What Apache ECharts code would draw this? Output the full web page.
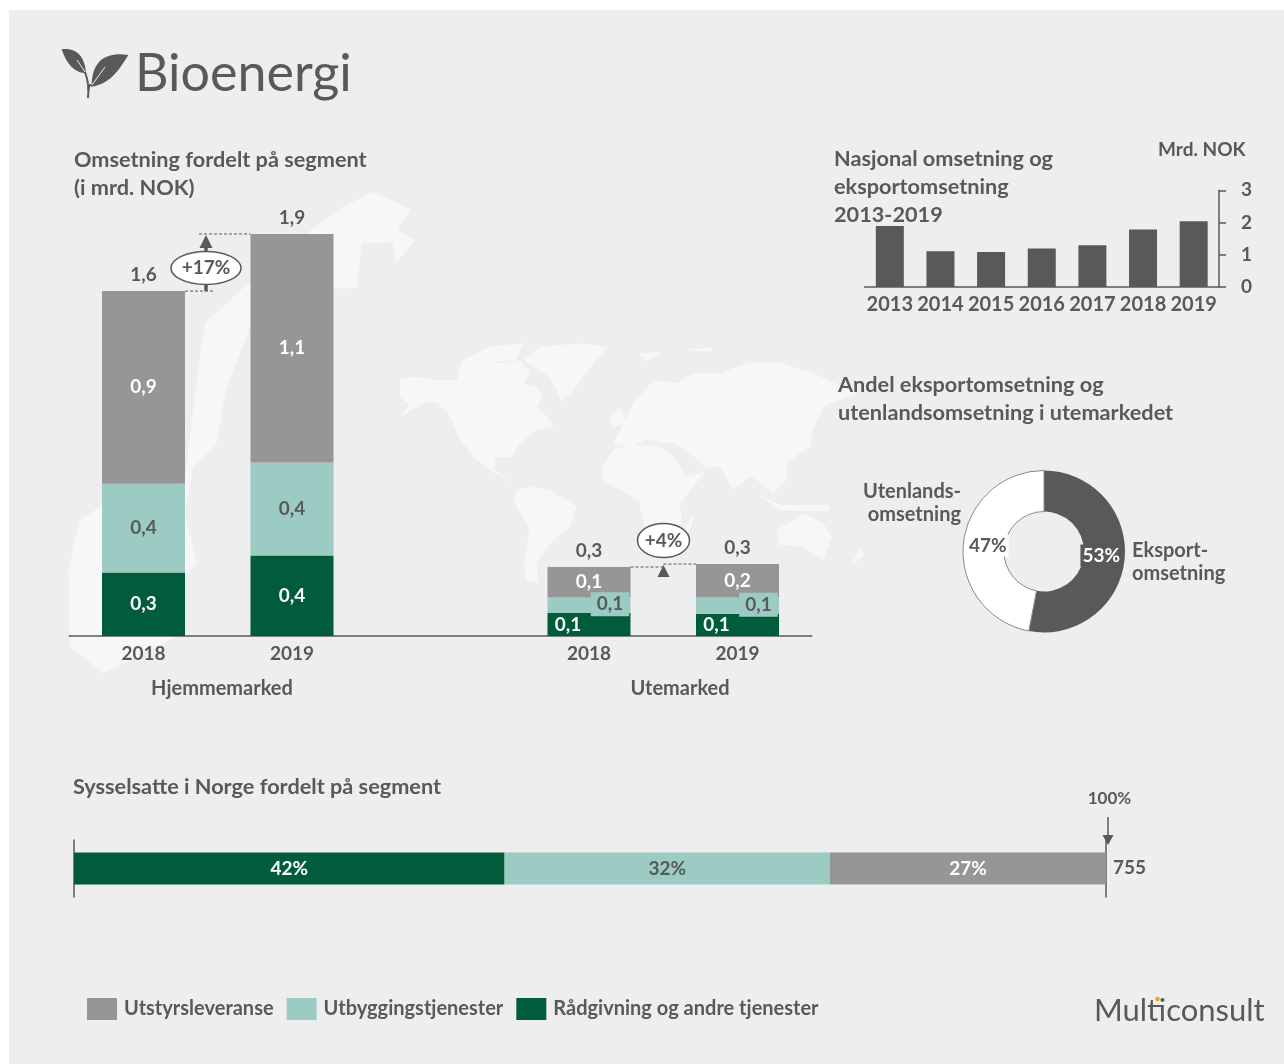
<!DOCTYPE html>
<html><head><meta charset="utf-8">
<style>html,body{margin:0;padding:0;background:#fff}#c{width:1284px;height:1064px}</style>
<script src="https://cdn.jsdelivr.net/npm/echarts@6/dist/echarts.min.js"></script>
</head><body><div id="c"></div>
<script>
const segmentNames = ['Utstyrsleveranse','Utbyggingstjenester','Rådgivning og andre tjenester'];
const segmentCategories = ['2018','2019','','2018','2019'];
const utstyr   = [0.91,1.08,null,0.144,0.158];
const utbygg   = [0.42,0.44,null,0.073,0.078];
const raadgiv  = [0.30,0.38,null,0.109,0.104];
const totals   = [1.63,1.90,null,0.326,0.340];
const years    = ['2013','2014','2015','2016','2017','2018','2019'];
const national = [1.89,1.11,1.08,1.19,1.29,1.78,2.04];
const shareNames  = ['Eksportomsetning','Utenlandsomsetning'];
const shareValues = [53,47];
const employed = [315,238,202];
const employedTotal = 755;

const FONT='Lato', DARK='#58595B', GRAY='#969696', TEAL='#9BCBC2', GREEN='#005C3B', BG='#EEEEEE', MAP='#F7F7F7';
const LW=700, LS=19, TS=20;
const comma=v=>v==null?'':v.toFixed(1).replace('.',',');
const chart=echarts.init(document.getElementById('c'),null,{renderer:'canvas'});

function stackSeries(name,vals,color,labelColor){
  return {name,type:'bar',stack:'s',xAxisIndex:0,yAxisIndex:0,barWidth:83,itemStyle:{color},
    label:{show:true,position:'inside',color:labelColor,fontFamily:FONT,fontWeight:LW,fontSize:LS,
      formatter:p=>comma(p.value)},
    data:vals.map(v=>v)};
}
const sGray=stackSeries(segmentNames[0],utstyr,GRAY,'#fff');
const sTeal=stackSeries(segmentNames[1],utbygg,TEAL,DARK);
const sGreen=stackSeries(segmentNames[2],raadgiv,GREEN,'#fff');
[3,4].forEach(i=>{
  sTeal.data[i]={value:utbygg[i],label:{offset:[21,-1],backgroundColor:TEAL,padding:[3,6,2,6]}};
  sGreen.data[i]={value:raadgiv[i],label:{offset:[-21,0]}};
});
function hSeries(name,val,color,labelColor){
  return {name,type:'bar',stack:'h',xAxisIndex:2,yAxisIndex:2,barWidth:32,itemStyle:{color},
    label:{show:true,position:'inside',color:labelColor,fontFamily:FONT,fontWeight:LW,fontSize:LS,
      formatter:()=>Math.round(val/employedTotal*100)+'%'},
    data:[val]};
}
const hidden={show:false};
const option={
  animation:false,
  backgroundColor:'#fff',
  textStyle:{fontFamily:FONT},
  legend:{left:87,top:998,padding:0,itemWidth:30,itemHeight:22,itemGap:13,icon:'rect',selectedMode:false,
    data:segmentNames,textStyle:{fontFamily:FONT,fontWeight:LW,fontSize:TS,color:DARK,padding:[0,0,0,2]}},
  grid:[
    {left:69.25,width:742.5,top:212.8,height:423.2},
    {left:864.5,width:354.5,top:190.3,height:96.6},
    {left:74,width:1032,top:840,height:57}
  ],
  xAxis:[
    {gridIndex:0,type:'category',data:segmentCategories,axisTick:hidden,
      axisLine:{lineStyle:{color:DARK,width:1.5}},
      axisLabel:{interval:0,margin:8,color:DARK,fontFamily:FONT,fontWeight:LW,fontSize:LS}},
    {gridIndex:1,type:'category',data:years,axisTick:hidden,
      axisLine:{lineStyle:{color:DARK,width:1.5}},
      axisLabel:{interval:0,margin:8,color:DARK,fontFamily:FONT,fontWeight:LW,fontSize:TS}},
    {gridIndex:2,type:'value',min:0,max:employedTotal,show:false}
  ],
  yAxis:[
    {gridIndex:0,type:'value',min:0,max:2,show:false},
    {gridIndex:1,type:'value',min:0,max:3,interval:1,position:'right',splitLine:hidden,
      axisLine:{show:true,lineStyle:{color:DARK,width:1.5}},
      axisTick:{show:true,length:7,lineStyle:{color:DARK,width:1.5}},
      axisLabel:{margin:22,color:DARK,fontFamily:FONT,fontWeight:LW,fontSize:LS}},
    {gridIndex:2,type:'category',data:['Sysselsatte'],position:'left',axisTick:hidden,axisLabel:hidden,
      axisLine:{show:true,lineStyle:{color:DARK,width:1.5}}},
    {gridIndex:2,type:'category',data:['Sysselsatte'],position:'right',axisTick:hidden,axisLabel:hidden,
      axisLine:{show:true,lineStyle:{color:DARK,width:1.5}}}
  ],
  series:[
    sGreen,sTeal,sGray,
    {name:'Sum',type:'line',xAxisIndex:0,yAxisIndex:0,data:totals,symbol:'circle',symbolSize:0,
      lineStyle:{opacity:0},itemStyle:{opacity:0},
      label:{show:true,position:'top',distance:7,color:DARK,fontFamily:FONT,fontWeight:LW,fontSize:LS,
        opacity:1,formatter:p=>comma(p.value)}},
    {name:'Nasjonal',type:'bar',xAxisIndex:1,yAxisIndex:1,barWidth:28,itemStyle:{color:DARK},data:national},
    {name:'Andel',type:'pie',center:[1044,551.5],radius:[40,81],startAngle:90,clockwise:true,silent:true,
      label:{position:'inside',fontFamily:FONT,fontWeight:LW,fontSize:LS,formatter:'{c}%',padding:[2,2,1,2]},
      labelLine:hidden,
      data:[
        {name:shareNames[0],value:shareValues[0],itemStyle:{color:DARK},label:{color:'#fff',backgroundColor:DARK,offset:[-6,-2]}},
        {name:shareNames[1],value:shareValues[1],itemStyle:{color:'#fff',borderColor:'#8a8a8a',borderWidth:1},
          label:{color:DARK,backgroundColor:'#fff',offset:[7,0]}}
      ]},
    hSeries(segmentNames[2],employed[0],GREEN,'#fff'),
    hSeries(segmentNames[1],employed[1],TEAL,DARK),
    hSeries(segmentNames[0],employed[2],GRAY,'#fff')
  ]
};
chart.setOption(option);

/* decoration ---------------------------------------------------------- */
const g=[];
g.push({type:'rect',z:-10,shape:{x:9,y:10,width:1275,height:1054},style:{fill:BG},silent:true});
function blob(pts,ox,oy){
  g.push({type:'polygon',z:-5,silent:true,shape:{points:pts.map(p=>[ox+p[0]/3,oy+p[1]/3])},style:{fill:MAP}});
}
const W=[380,330];
[
 [[60,150],[100,140],[170,150],[230,150],[240,110],[300,90],[370,100],[420,90],[450,130],[430,160],[470,170],[490,200],[470,230],[510,270],[520,290],[470,300],[420,340],[395,380],[345,385],[345,420],[390,455],[410,470],[380,450],[320,415],[280,380],[235,320],[210,260],[170,215],[130,215],[60,255],[90,225],[60,200]],
 [[410,480],[450,470],[510,480],[590,530],[570,590],[510,640],[470,700],[475,760],[440,750],[430,700],[450,600],[405,520]],
 [[430,90],[480,50],[600,40],[685,50],[640,100],[580,180],[545,215],[510,140]],
 [[700,360],[760,345],[840,350],[880,380],[920,440],[975,425],[940,470],[900,520],[905,580],[860,610],[800,610],[775,510],[720,480],[670,450],[665,410]],
 [[700,340],[730,280],[760,220],[820,150],[890,160],[940,130],[1020,130],[1100,100],[1190,95],[1300,130],[1430,190],[1330,230],[1300,300],[1260,370],[1220,400],[1220,450],[1180,490],[1130,450],[1110,440],[1060,480],[1020,410],[980,415],[930,370],[880,340],[800,330],[750,350]],
 [[915,590],[940,555],[935,590],[910,620]],
 [[1190,600],[1270,550],[1330,580],[1355,620],[1330,690],[1270,650],[1200,645]],
 [[1130,490],[1200,525],[1350,525],[1345,545],[1200,540]],
 [[690,270],[720,230],[740,280],[700,290]],
 [[775,70],[840,65],[800,95]],
 [[920,60],[1000,50],[990,65]],
 [[1410,710],[1440,655],[1455,675]],
 [[1260,370],[1300,310],[1290,350]],
 [[230,130],[250,90],[330,50],[430,40],[410,90],[300,100]]
].forEach(p=>blob(p,W[0],W[1]));
/* Norway */
blob([[30,1400],[25,1170],[60,1020],[130,975],[375,900],[405,640],[435,430],[575,300],[740,160],[850,80],[940,35],[1055,90],[1010,150],[1068,180],[1005,250],[1000,185],[905,190],[890,325],[820,325],[573,430],[495,640],[470,790],[400,860],[375,1000],[410,1150],[375,1190],[350,1370],[130,1480]],60,180);
blob([[1020,620],[1050,590],[1110,600],[1110,660],[1020,710],[1060,660]],60,180);

function txt(x,y,s,size,weight,align,color,dy){
  g.push({type:'text',z:20,silent:true,x,y:y+(dy==null?0.5:dy),style:{text:s,fontFamily:FONT,fontSize:size,fontWeight:weight||LW,
    fill:color||DARK,textAlign:align||'left',textVerticalAlign:'middle'}});
}
txt(135,73,'Bioenergi',52,400,'left',DARK,1.5);
[[74,159,'Omsetning fordelt på segment'],[74,187,'(i mrd. NOK)'],
 [834,158,'Nasjonal omsetning og'],[834,186,'eksportomsetning'],[834,214,'2013-2019'],
 [838,384,'Andel eksportomsetning og'],[838,412,'utenlandsomsetning i utemarkedet'],
 [73,786,'Sysselsatte i Norge fordelt på segment']].forEach(t=>txt(t[0],t[1],t[2],21.7,700,'left',DARK,1.5));
txt(1158,149,'Mrd. NOK',LS);
txt(961,491,'Utenlands-',TS,LW,'right');txt(961,514,'omsetning',TS,LW,'right');
txt(1132,550,'Eksport-',TS);txt(1132,573,'omsetning',TS);
txt(222,688,'Hjemmemarked',TS,LW,'center');txt(680,688,'Utemarked',TS,LW,'center');
txt(1109.5,798,'100%',17,LW,'center');txt(1113,867,'755',LS);
txt(1094,1010,'Multiconsult',31,400);
g.push({type:'circle',z:21,silent:true,shape:{cx:1157.5,cy:999,r:2.2},style:{fill:'#F39C25'}});

/* leaf logo */
echarts.graphic.registerShape('leafLogo',echarts.graphic.extendPath('M65 58 C100 53 135 70 138 130 C105 128 80 105 65 58 Z M265 75 C205 66 155 85 155 170 C215 160 240 115 265 75 Z',{}));
g.push({type:'leafLogo',z:20,silent:true,x:40,y:30,scaleX:1/3,scaleY:1/3,style:{fill:DARK}});
g.push({type:'bezierCurve',z:20,silent:true,shape:{x1:88,y1:98,cpx1:89,cpy1:90,cpx2:88,cpy2:80,x2:85,y2:72},style:{fill:'none',stroke:DARK,lineWidth:2}});
g.push({type:'bezierCurve',z:20,silent:true,shape:{x1:88.5,y1:90,cpx1:89,cpy1:85,cpx2:90,cpy2:84,x2:92,y2:86},style:{fill:'none',stroke:DARK,lineWidth:2}});
g.push({type:'line',z:21,silent:true,shape:{x1:77,y1:60,x2:85,y2:72},style:{stroke:BG,lineWidth:1}});
g.push({type:'line',z:21,silent:true,shape:{x1:92,y1:85,x2:105,y2:67},style:{stroke:BG,lineWidth:1}});

/* change annotations, anchored on the chart's own scale */
const yPx=v=>chart.convertToPixel({yAxisIndex:0},v);
const xPx=i=>chart.convertToPixel({xAxisIndex:0},i);
function seg(x1,y1,x2,y2,dash,w){
  g.push({type:'line',z:15,silent:true,shape:{x1,y1,x2,y2},style:{stroke:DARK,lineWidth:w||1,lineDash:dash?[3,2]:null}});
}
function tri(x,tip,h,hw,up){
  g.push({type:'polygon',z:16,silent:true,shape:{points:[[x,tip],[x-hw,tip+(up?h:-h)],[x+hw,tip+(up?h:-h)]]},style:{fill:DARK}});
}
function bubble(cx,cy,rx,ry,s){
  g.push({type:'ellipse',z:17,silent:true,shape:{cx,cy,rx,ry},style:{fill:'#fff',stroke:DARK,lineWidth:1.5}});
  g.push({type:'text',z:18,silent:true,x:cx,y:cy,style:{text:s,fontFamily:FONT,fontWeight:LW,fontSize:LS,fill:DARK,textAlign:'center',textVerticalAlign:'middle'}});
}
const y0=yPx(totals[0]),y1=yPx(totals[1]),y3=yPx(totals[3]),y4=yPx(totals[4]);
const ax=206;
seg(xPx(0)+41.5,y0,ax+7,y0,true);seg(ax-7,y1,xPx(1)-41.5,y1,true);
seg(ax,y0,ax,y1+10,false,3.5);tri(ax,y1+1,13,6.5,true);
bubble(ax,268,35,16.5,'+17%');
const bx=663.5;
seg(xPx(3)+41.5,y3,bx,y3,true);seg(bx,y4,xPx(4)-41.5,y4,true);
tri(bx,y4+1,12,6,true);
bubble(bx,540.5,26,17,'+4%');
/* 100 % arrow */
seg(1108,817,1108,840,false,1.5);tri(1108,845,10,5.5,false);

chart.setOption({graphic:{elements:g}});
</script></body></html>
